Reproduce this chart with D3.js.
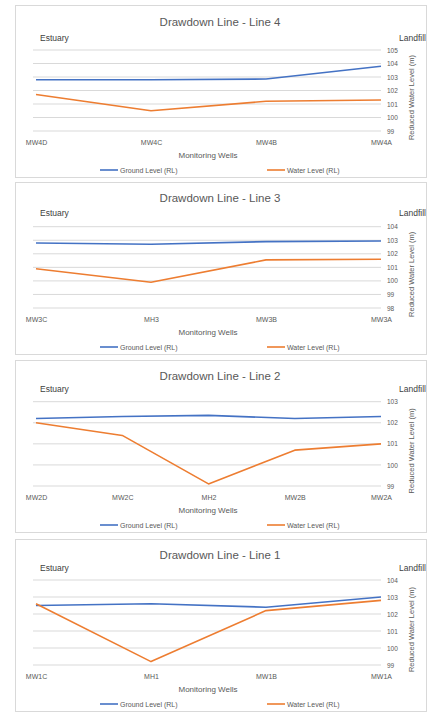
<!DOCTYPE html>
<html><head><meta charset="utf-8">
<script src="https://cdn.jsdelivr.net/npm/d3@7"></script>
<style>body{margin:0;background:#fff}svg{display:block}text{font-family:"Liberation Sans",Arial,sans-serif;fill:#595959}</style>
</head><body>
<script>
// Data
const titles = ["Drawdown Line - Line 4","Drawdown Line - Line 3","Drawdown Line - Line 2","Drawdown Line - Line 1"];
const wells4 = ["MW4D","MW4C","MW4B","MW4A"];
const ground4 = [102.8,102.8,102.85,103.8];
const water4 = [101.7,100.5,101.2,101.3];
const ticks4 = [99,100,101,102,103,104,105];
const wells3 = ["MW3C","MH3","MW3B","MW3A"];
const ground3 = [102.8,102.7,102.9,102.95];
const water3 = [100.9,99.9,101.55,101.6];
const ticks3 = [98,99,100,101,102,103,104];
const wells2 = ["MW2D","MW2C","MH2","MW2B","MW2A"];
const ground2 = [102.2,102.3,102.35,102.2,102.3];
const water2 = [102.0,101.4,99.1,100.7,101.0];
const ticks2 = [99,100,101,102,103];
const wells1 = ["MW1C","MH1","MW1B","MW1A"];
const ground1 = [102.5,102.6,102.4,103.0];
const water1 = [102.6,99.2,102.2,102.8];
const ticks1 = [99,100,101,102,103,104];
const seriesNames = ["Ground Level (RL)","Water Level (RL)"];

const panels = [
  {title:titles[0], wells:wells4, ground:ground4, water:water4, ticks:ticks4, top:5, pt:45, ty:21, ey:36},
  {title:titles[1], wells:wells3, ground:ground3, water:water3, ticks:ticks3, top:182, pt:44.7, ty:20, ey:34},
  {title:titles[2], wells:wells2, ground:ground2, water:water2, ticks:ticks2, top:360, pt:41.7, ty:20, ey:32},
  {title:titles[3], wells:wells1, ground:ground1, water:water1, ticks:ticks1, top:539, pt:41, ty:20, ey:32}
];
const colors = ["#4472C4","#ED7D31"];
const W = 428, H = 715;
const svg = d3.select("body").append("svg").attr("width",W).attr("height",H);

panels.forEach(p => {
  const g = svg.append("g").attr("transform",`translate(0,${p.top})`);
  g.append("rect").attr("x",15.5).attr("y",0.5).attr("width",411).attr("height",172)
    .attr("fill","#fff").attr("stroke","#d9d9d9").attr("stroke-width",1);
  const x = d3.scalePoint().domain(p.wells).range([36,381]);
  const y = d3.scaleLinear().domain(d3.extent(p.ticks)).range([126,p.pt]);
  // gridlines
  g.append("g").selectAll("line").data(p.ticks).join("line")
    .attr("x1",33).attr("x2",381).attr("y1",d=>y(d)).attr("y2",d=>y(d))
    .attr("stroke","#d9d9d9").attr("stroke-width",1);
  // right axis labels
  const ax = g.append("g").attr("transform","translate(384,0)")
    .call(d3.axisRight(y).tickValues(p.ticks).tickSize(0).tickPadding(2).tickFormat(d3.format("d")));
  ax.select(".domain").remove();
  ax.selectAll("text").attr("font-size",6.5).style("fill","#595959").attr("x",3).attr("text-anchor","start");
  // x labels
  const xa = g.append("g").attr("transform","translate(0,135)")
    .call(d3.axisBottom(x).tickSize(0).tickPadding(0));
  xa.select(".domain").remove();
  xa.selectAll("text").attr("font-size",7).style("fill","#595959");
  // lines
  const line = d3.line().x((d,i)=>x(p.wells[i])).y(d=>y(d));
  [p.ground,p.water].forEach((s,k)=>{
    g.append("path").datum(s).attr("d",line).attr("fill","none")
      .attr("stroke",colors[k]).attr("stroke-width",1.6).attr("stroke-linejoin","round");
  });
  // texts
  g.append("text").attr("x",220).attr("y",p.ty).attr("text-anchor","middle").attr("font-size",11.5).text(p.title);
  g.append("text").attr("x",40).attr("y",p.ey).attr("font-size",8.5).style("fill","#404040").text("Estuary");
  g.append("text").attr("x",426).attr("y",p.ey).attr("text-anchor","end").attr("font-size",8.5).style("fill","#404040").text("Landfill");
  g.append("text").attr("transform",`translate(414,${(p.pt+140)/2}) rotate(-90)`).attr("text-anchor","middle")
    .attr("font-size",7.5).text("Reduced Water Level (m)");
  g.append("text").attr("x",208).attr("y",153).attr("text-anchor","middle").attr("font-size",8).text("Monitoring Wells");
  // legend
  const lx = [100,267];
  seriesNames.forEach((n,k)=>{
    g.append("line").attr("x1",lx[k]).attr("x2",lx[k]+18).attr("y1",165).attr("y2",165)
      .attr("stroke",colors[k]).attr("stroke-width",1.6);
    g.append("text").attr("x",lx[k]+20).attr("y",167.5).attr("font-size",7).text(n);
  });
});
</script>
</body></html>
